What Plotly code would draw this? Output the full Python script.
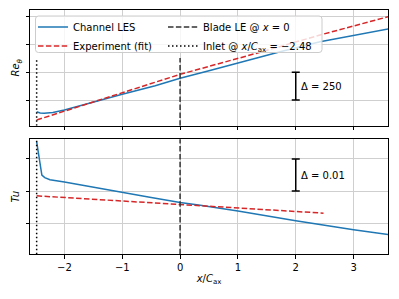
import plotly.graph_objects as go
from plotly.subplots import make_subplots

# ---------------- data ----------------
x_les_re = [-2.48, -2.42, -2.35, -2.28, -2.2, -2.0, -1.5, -1.0, -0.43, 0.0, 0.5, 1.0, 1.73, 2.42, 3.0, 3.6]
re_les = [145, 134, 130, 131, 137, 160, 233, 301, 379, 445, 514, 584, 685, 775, 833, 889]

x_exp_re = [-2.48, -1.5, 0.0, 1.38, 2.42, 3.6]
re_exp = [70, 232, 481, 679, 835, 1000]

x_les_tu = [-2.48, -2.39, -2.34, -2.25, -2.0, -1.82, -1.5, -1.0, -0.5, 0.0, 0.35, 1.0, 2.0, 3.0, 3.6]
tu_les = [0.0454, 0.0350, 0.0342, 0.0335, 0.0328, 0.0322, 0.0311, 0.0295, 0.0280, 0.0264, 0.0256, 0.0238, 0.0207, 0.0179, 0.0164]

x_exp_tu = [-2.48, 2.48]
tu_exp = [0.0285, 0.0231]

x_blade = 0.0
x_inlet = -2.48
re_vline = [18, 628]
tu_vline = [0.0103, 0.0462]

bar_x = [2.0]
re_bar_mid = [375]
re_delta = 250
tu_bar_mid = [0.035]
tu_delta = 0.01

re_ticks = [250, 500, 750, 1000]
tu_ticks = [0.02, 0.03, 0.04]
x_ticks = [-2, -1, 0, 1, 2, 3]
x_ticktext = ["\u22122", "\u22121", "0", "1", "2", "3"]

BLUE = "#1f77b4"
RED = "#d62728"
FONT = "DejaVu Sans"

# figure geometry (page has an 8px body margin)
OFF = 8
W, H = 383, 283
ML, MR, MT, MB = 22, 3, 2, 37
PW, PH = W - ML - MR, H - MT - MB


def px_x(p):  # page pixel -> paper x
    return (p - OFF - ML) / PW


def px_y(p):  # page pixel -> paper y
    return (H - MB - (p - OFF)) / PH


def rounded_box(x0p, x1p, y0p, y1p, r=3):
    x0, x1 = px_x(x0p), px_x(x1p)
    yt, yb = px_y(y0p), px_y(y1p)
    rx, ry = r / PW, r / PH
    return (f"M{x0 + rx},{yt} L{x1 - rx},{yt} Q{x1},{yt} {x1},{yt - ry} "
            f"L{x1},{yb + ry} Q{x1},{yb} {x1 - rx},{yb} L{x0 + rx},{yb} "
            f"Q{x0},{yb} {x0},{yb + ry} L{x0},{yt - ry} Q{x0},{yt} {x0 + rx},{yt} Z")


fig = make_subplots(rows=2, cols=1, shared_xaxes=True)

# top panel (row 1)
fig.add_trace(go.Scatter(x=x_les_re, y=re_les, mode="lines", name="Channel LES", legend="legend",
                         line=dict(color=BLUE, width=1.5)), row=1, col=1)
fig.add_trace(go.Scatter(x=x_exp_re, y=re_exp, mode="lines", name="Experiment (fit)", legend="legend",
                         line=dict(color=RED, width=1.5, dash="5.5px,2.4px")), row=1, col=1)
fig.add_trace(go.Scatter(x=[x_blade, x_blade], y=re_vline, mode="lines", name="Blade LE @ <i>x</i> = 0",
                         legend="legend2",
                         line=dict(color="#333333", width=1.5, dash="5.5px,2.4px")), row=1, col=1)
fig.add_trace(go.Scatter(x=[x_inlet, x_inlet], y=re_vline, mode="lines", legend="legend2",
                         name="Inlet @ <i>x</i>/<i>C</i><sub>ax</sub> = \u22122.48",
                         line=dict(color="black", width=1.5, dash="1.5px,2.5px")), row=1, col=1)
fig.add_trace(go.Scatter(x=bar_x, y=re_bar_mid, mode="markers", showlegend=False,
                         marker=dict(size=1, color="rgba(0,0,0,0)"),
                         error_y=dict(type="constant", value=re_delta / 2, color="black",
                                      thickness=1.5, width=4)), row=1, col=1)

# bottom panel (row 2)
fig.add_trace(go.Scatter(x=x_les_tu, y=tu_les, mode="lines", showlegend=False,
                         line=dict(color=BLUE, width=1.5)), row=2, col=1)
fig.add_trace(go.Scatter(x=x_exp_tu, y=tu_exp, mode="lines", showlegend=False,
                         line=dict(color=RED, width=1.5, dash="5.5px,2.4px")), row=2, col=1)
fig.add_trace(go.Scatter(x=[x_blade, x_blade], y=tu_vline, mode="lines", showlegend=False,
                         line=dict(color="#333333", width=1.5, dash="5.5px,2.4px")), row=2, col=1)
fig.add_trace(go.Scatter(x=[x_inlet, x_inlet], y=tu_vline, mode="lines", showlegend=False,
                         line=dict(color="black", width=1.5, dash="1.5px,2.5px")), row=2, col=1)
fig.add_trace(go.Scatter(x=bar_x, y=tu_bar_mid, mode="markers", showlegend=False,
                         marker=dict(size=1, color="rgba(0,0,0,0)"),
                         error_y=dict(type="constant", value=tu_delta / 2, color="black",
                                      thickness=1.5, width=4)), row=2, col=1)

fig.add_annotation(x=bar_x[0], y=re_bar_mid[0], xref="x", yref="y", text="\u0394 = 250",
                   showarrow=False, xanchor="left", xshift=3, font=dict(family=FONT, size=10, color="black"))
fig.add_annotation(x=bar_x[0], y=tu_bar_mid[0], xref="x2", yref="y2", text="\u0394 = 0.01",
                   showarrow=False, xanchor="left", xshift=3, font=dict(family=FONT, size=10, color="black"))

# legend frame (matplotlib-like semi-opaque rounded box)
fig.add_shape(type="path", xref="paper", yref="paper", layer="above",
              path=rounded_box(35.5, 322, 16, 52.5),
              fillcolor="rgba(255,255,255,0.8)", line=dict(color="#cccccc", width=1))

axis_common = dict(showline=True, linecolor="black", linewidth=1, mirror=True,
                   ticks="outside", ticklen=3.5, tickcolor="black", tickwidth=1,
                   showgrid=True, gridcolor="#cfcfcf", gridwidth=1, zeroline=False,
                   automargin=False)

fig.update_xaxes(range=[-2.595, 3.595], tickvals=x_ticks, **axis_common)
fig.update_xaxes(showticklabels=False, row=1, col=1)
fig.update_xaxes(ticktext=x_ticktext, showticklabels=True,
                 title=dict(text="<i>x</i>/<i>C</i><sub>ax</sub>", standoff=3,
                            font=dict(family=FONT, size=10, color="black")),
                 tickfont=dict(family=FONT, size=10, color="black"), row=2, col=1)
fig.update_yaxes(**axis_common)
fig.update_yaxes(range=[18.7, 1060], tickvals=re_ticks, showticklabels=False,
                 title=dict(text="<i>Re</i><sub><i>\u03b8</i></sub>", standoff=3,
                            font=dict(family=FONT, size=10, color="black")), row=1, col=1)
fig.update_yaxes(range=[0.01036, 0.04613], tickvals=tu_ticks, showticklabels=False,
                 title=dict(text="<i>Tu</i>", standoff=3,
                            font=dict(family=FONT, size=10, color="black")), row=2, col=1)

legend_common = dict(xanchor="left", yanchor="top", xref="paper", yref="paper",
                     orientation="v", bgcolor="rgba(0,0,0,0)", borderwidth=0,
                     font=dict(family=FONT, size=10, color="black"))

fig.update_layout(
    width=W, height=H,
    margin=dict(l=ML, r=MR, t=MT, b=MB, autoexpand=False),
    plot_bgcolor="white", paper_bgcolor="white",
    font=dict(family=FONT, size=10, color="black"),
    yaxis=dict(domain=[0.5258, 1.0]),
    yaxis2=dict(domain=[0.0, 0.470]),
    legend=dict(x=px_x(33), y=px_y(12.5), **legend_common),
    legend2=dict(x=px_x(163), y=px_y(12.5), **legend_common),
    showlegend=True,
)

fig.write_html("out.html")
